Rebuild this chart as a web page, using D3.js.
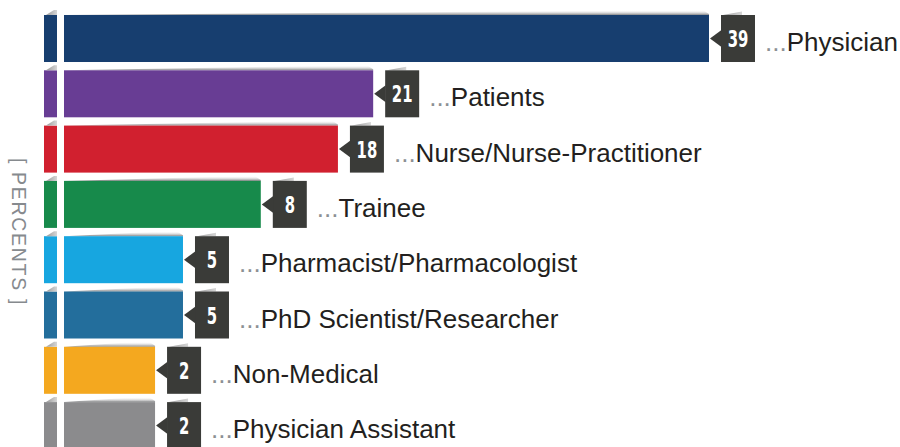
<!DOCTYPE html>
<html>
<head>
<meta charset="utf-8">
<script src="https://cdn.jsdelivr.net/npm/d3@7"></script>
<style>
  body { margin: 0; background: #fff; }
  svg { display: block; }
</style>
</head>
<body>
<svg id="chart" width="900" height="447"></svg>
<script>
// respondents by role, in percent
const categories = [
  "Physician",
  "Patients",
  "Nurse/Nurse-Practitioner",
  "Trainee",
  "Pharmacist/Pharmacologist",
  "PhD Scientist/Researcher",
  "Non-Medical",
  "Physician Assistant"
];
const percents = [39, 21, 18, 8, 5, 5, 2, 2];
const barColors = [
  "#173e6f", // physician
  "#683d94", // patients
  "#d1202f", // nurse
  "#178a4b", // trainee
  "#17a6e0", // pharmacist
  "#236e9c", // phd
  "#f4a81f", // non-medical
  "#8b8b8d"  // PA
];
// the infographic is not drawn to a linear scale: piecewise stops
const scaleStops = [0, 2, 5, 8, 18, 21, 39];
const stopShare = [0, 0.167, 0.209, 0.326, 0.442, 0.495, 1];
const axisLabel = "[ PERCENTS ]";

const svg = d3.select("#chart");
const margin = { top: 15, left: 44 };
const innerWidth = 665;

const defs = svg.append("defs");
const shade = defs.append("linearGradient")
  .attr("id", "shade")
  .attr("x1", 0).attr("y1", 0).attr("x2", 0).attr("y2", 1);
shade.append("stop").attr("offset", 0).attr("stop-color", "#fff").attr("stop-opacity", 0);
shade.append("stop").attr("offset", 1).attr("stop-color", "#6f7072").attr("stop-opacity", 0.85);

const flap = defs.append("linearGradient")
  .attr("id", "flap")
  .attr("x1", 0).attr("y1", 0).attr("x2", 1).attr("y2", 0);
flap.append("stop").attr("offset", 0).attr("stop-color", "#9a9a9a");
flap.append("stop").attr("offset", 1).attr("stop-color", "#d6d6d6");

const x = d3.scaleLinear()
  .domain(scaleStops)
  .range(stopShare.map(s => margin.left + s * innerWidth));

const y = d3.scaleBand()
  .domain(categories)
  .range([margin.top, margin.top + 55.3 * (categories.length - 0.15)])
  .paddingInner(0.15)
  .paddingOuter(0);

const data = categories.map((c, i) => ({ name: c, value: percents[i], color: barColors[i] }));

const rows = svg.selectAll(".row")
  .data(data)
  .enter()
  .append("g")
  .attr("class", "row")
  .attr("transform", d => `translate(0,${y(d.name)})`);

const bh = y.bandwidth();

// curled shadow above each bar
rows.append("path")
  .attr("fill", "url(#shade)")
  .attr("d", d => {
    const x1 = x(d.value);
    return `M64,0 L${x1 - 16},-5 L${x1 - 6},-5 L${x1},-1 L${x1},0 Z`;
  });

rows.append("rect")
  .attr("x", x(0))
  .attr("y", 0)
  .attr("width", d => x(d.value) - x(0))
  .attr("height", bh)
  .attr("fill", d => d.color);

// small fold on the left stub
rows.append("path")
  .attr("fill", "url(#flap)")
  .attr("d", "M46,0 L54,-5 L57,-5 L57,0 Z");

// value tag
const tag = rows.append("g")
  .attr("transform", d => `translate(${x(d.value)},0)`);

tag.append("path")
  .attr("fill", "url(#flap)")
  .attr("d", "M14,0 L33,-3.5 L33,0 Z");

tag.append("rect")
  .attr("x", 12)
  .attr("y", 0)
  .attr("width", 34)
  .attr("height", bh)
  .attr("fill", "#3a3b38");

tag.append("path")
  .attr("fill", "#3a3b38")
  .attr("d", `M1,${bh / 2} L12.5,${bh / 2 - 8.5} L12.5,${bh / 2 + 8.5} Z`);

tag.append("text")
  .attr("transform", `translate(29,${bh / 2 + 8.5}) scale(0.66,1)`)
  .attr("text-anchor", "middle")
  .attr("fill", "#fff")
  .style("font-family", "'DejaVu Sans',sans-serif")
  .style("font-weight", "bold")
  .style("font-size", "22.5px")
  .text(d => d.value);

const lbl = tag.append("text")
  .attr("x", 56)
  .attr("y", bh / 2 + 12.5)
  .style("font-family", "'Liberation Sans',Arial,sans-serif")
  .style("font-size", "26px")
  .attr("fill", "#231f20");

lbl.append("tspan").attr("fill", "#8c9094").text("...");
lbl.append("tspan").text(d => d.name);

// white cut through the bars
svg.append("rect")
  .attr("x", 57)
  .attr("y", 0)
  .attr("width", 7)
  .attr("height", 447)
  .attr("fill", "#fff");

// vertical axis title
svg.append("text")
  .attr("transform", "translate(11.5,232) rotate(90)")
  .attr("text-anchor", "middle")
  .attr("fill", "#868a8e")
  .style("font-family", "'Liberation Sans',Arial,sans-serif")
  .style("font-size", "19.5px")
  .style("letter-spacing", "1.7px")
  .text(axisLabel);
</script>
</body>
</html>
